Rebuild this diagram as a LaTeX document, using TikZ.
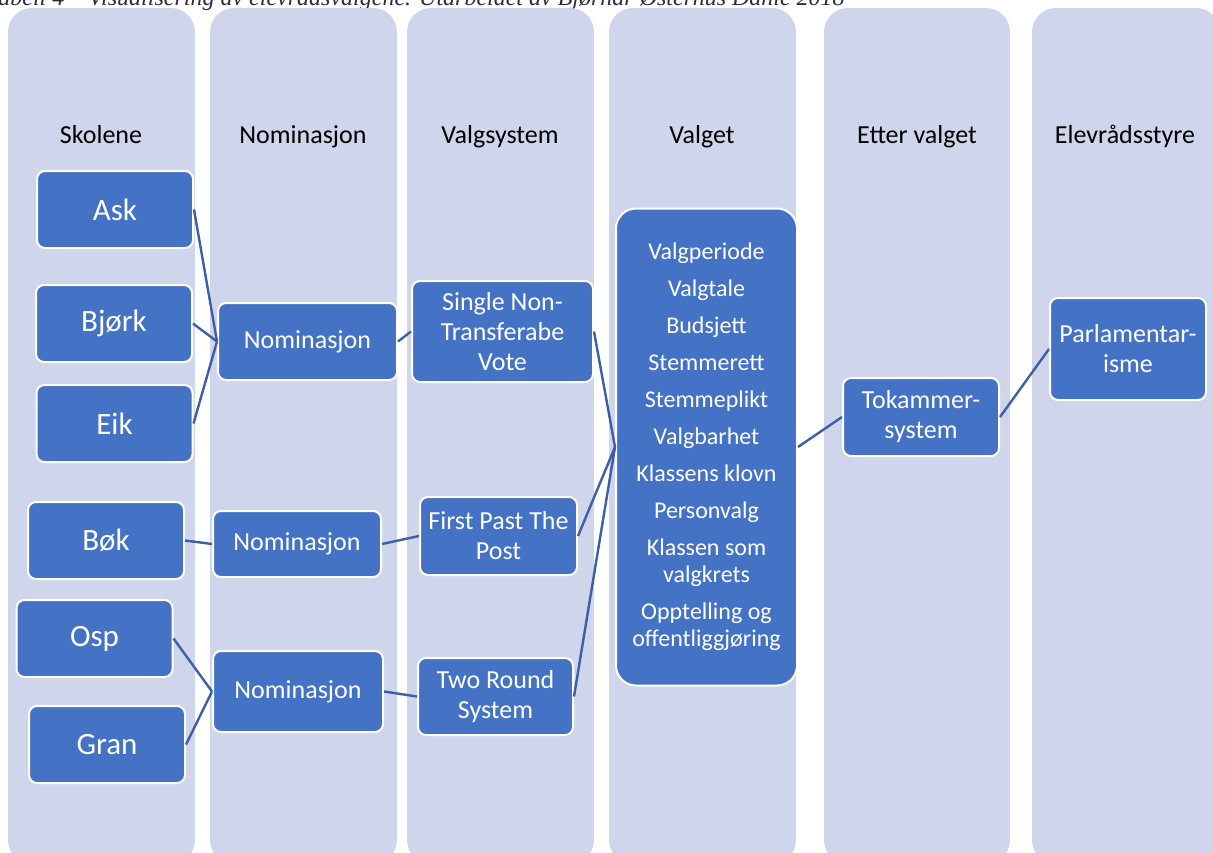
\documentclass[tikz,border=0pt]{standalone}
\usepackage{fontspec}
\setmainfont{Carlito}
\newfontfamily\capfont{Liberation Serif}
\usetikzlibrary{positioning}
\definecolor{lanefill}{RGB}{207,213,234}
\definecolor{boxblue}{RGB}{68,114,196}
\definecolor{linkblue}{RGB}{60,95,168}
\definecolor{capgray}{RGB}{45,45,55}

\begin{document}
\begin{tikzpicture}[x=1pt, y=-1pt,
  lane/.style={fill=lanefill, rounded corners=24pt},
  head/.style={anchor=base, font=\fontsize{26}{30}\selectfont},
  box/.style={draw=white, line width=2pt, fill=boxblue, text=white, rounded corners=8pt,
    align=center, inner sep=0pt, font=\fontsize{26}{30}\selectfont},
  tree/.style={box, font=\fontsize{31}{36}\selectfont, minimum width=156pt, minimum height=77pt},
  link/.style={draw=linkblue, line width=2.4pt}]
  \clip (0,0) rectangle (1213,852);

  % caption, cut off by the page edge
  \node[anchor=base west, inner sep=0pt, text=capgray, font=\capfont\itshape\fontsize{24}{28}\selectfont] (caption) at (-13,5)
    {Tabell 4 – Visualisering av elevrådsvalgene. Utarbeidet av Bjørnar Østerhus Dahle 2018};

  % columns
  \foreach \xl/\xr in {8/195, 210/397, 407/594, 609/796, 824/1010, 1032/1220}
    \fill[lane] (\xl,8) rectangle (\xr,864);

  \node[head] (hskolene) at (101,143) {Skolene};
  \node[head] (hnom)     at (303,143) {Nominasjon};
  \node[head] (hsystem)  at (500,143) {Valgsystem};
  \node[head] (hvalget)  at (702,143) {Valget};
  \node[head] (hetter)   at (917,143) {Etter valget};
  \node[head] (hstyre)   at (1125,143) {Elevrådsstyre};

  % schools
  \node[tree] (ask)  at (115,209.5) {Ask};
  \node[tree] (bjork) at (114,323.5) {Bjørk};
  \node[tree] (eik)  at (114.5,423.5) {Eik};
  \node[tree] (bok)  at (106,540.5) {Bøk};
  \node[tree] (osp)  at (94.5,638.5) {Osp};
  \node[tree] (gran) at (107,744.5) {Gran};

  % nominations
  \node[box, minimum width=179pt, minimum height=77pt] (nomA) at (307.5,341.5) {Nominasjon};
  \node[box, minimum width=168pt, minimum height=66pt] (nomB) at (297,544) {Nominasjon};
  \node[box, minimum width=170pt, minimum height=81pt] (nomC) at (298,691.5) {Nominasjon};

  % electoral systems
  \node[box, minimum width=181pt, minimum height=101pt] (sntv) at (502.5,331.5) {Single Non-\\Transferabe\\Vote};
  \node[box, minimum width=157pt, minimum height=78pt] (fptp) at (498.5,536) {First Past The\\Post};
  \node[box, minimum width=155pt, minimum height=77pt] (trs)  at (495.5,696.5) {Two Round\\System};

  % the election
  \node[box, rounded corners=20pt, minimum width=181pt, minimum height=477pt,
    font=\fontsize{24}{27}\selectfont] (valget) at (706.5,447)
    {Valgperiode\\[10pt] Valgtale\\[10pt] Budsjett\\[10pt] Stemmerett\\[10pt] Stemmeplikt\\[10pt]
     Valgbarhet\\[10pt] Klassens klovn\\[10pt] Personvalg\\[10pt] Klassen som\\ valgkrets\\[10pt]
     Opptelling og\\ offentliggjøring};

  \node[box, minimum width=156pt, minimum height=78pt] (tokammer) at (921,417) {Tokammer-\\system};
  \node[box, minimum width=156pt, minimum height=102pt] (parl) at (1128,349) {Parlamentar-\\isme};

  % connectors
  \draw[link] (ask.east) -- (nomA.west);
  \draw[link] (bjork.east) -- (nomA.west);
  \draw[link] (eik.east) -- (nomA.west);
  \draw[link] (bok.east) -- (nomB.west);
  \draw[link] (osp.east) -- (nomC.west);
  \draw[link] (gran.east) -- (nomC.west);
  \draw[link] (nomA.east) -- (sntv.west);
  \draw[link] (nomB.east) -- (fptp.west);
  \draw[link] (nomC.east) -- (trs.west);
  \draw[link] (sntv.east) -- (valget.west);
  \draw[link] (fptp.east) -- (valget.west);
  \draw[link] (trs.east) -- (valget.west);
  \draw[link] (valget.east) -- (tokammer.west);
  \draw[link] (tokammer.east) -- (parl.west);
\end{tikzpicture}
\end{document}
